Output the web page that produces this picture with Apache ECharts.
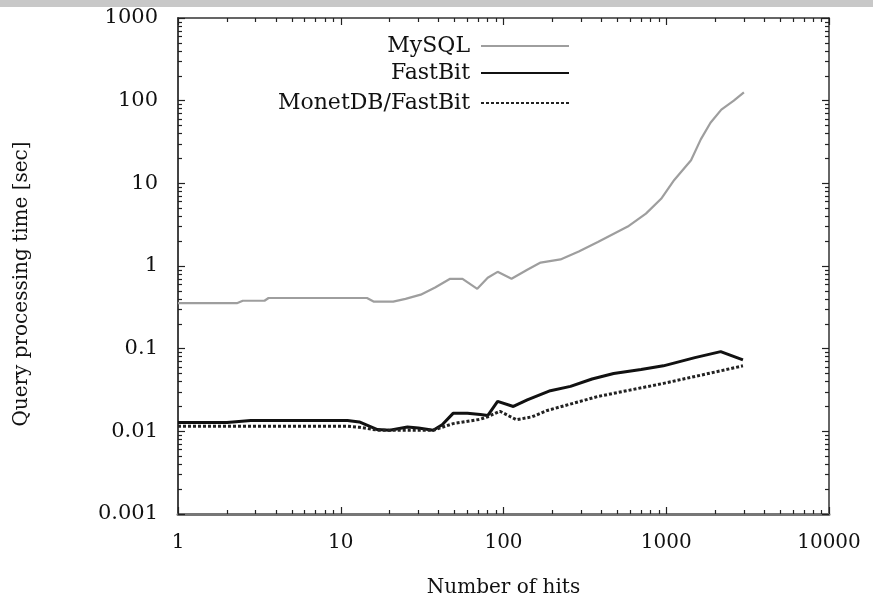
<!DOCTYPE html>
<html>
<head>
<meta charset="utf-8">
<script src="https://cdn.jsdelivr.net/npm/echarts@6/dist/echarts.min.js"></script>
<style>html,body{margin:0;padding:0;background:#fff}#c{width:873px;height:603px}</style>
</head>
<body>
<div id="c"></div>
<script>
// ---- data ----
const mysqlHits  = [1, 2.3, 2.5, 3.4, 3.6, 8, 14.5, 16, 21, 25, 31, 38, 47, 56, 69, 80, 92, 112, 140, 169, 224, 290, 380, 580, 750, 930, 1120, 1420, 1630, 1870, 2180, 2600, 3000];
const mysqlTimes = [0.355, 0.355, 0.38, 0.38, 0.41, 0.41, 0.41, 0.37, 0.37, 0.40, 0.45, 0.55, 0.70, 0.70, 0.53, 0.72, 0.85, 0.70, 0.90, 1.1, 1.2, 1.5, 1.95, 3.0, 4.3, 6.5, 11, 19, 34, 54, 78, 100, 126];

const fastbitHits  = [1, 2.0, 2.8, 11, 13, 16.8, 20, 25.7, 30, 37, 42, 49, 60, 72, 80, 92, 115, 140, 194, 258, 350, 475, 700, 960, 1500, 2160, 2960];
const fastbitTimes = [0.0128, 0.0128, 0.0135, 0.0135, 0.013, 0.0105, 0.0103, 0.0113, 0.011, 0.0103, 0.012, 0.0165, 0.0165, 0.016, 0.0155, 0.023, 0.020, 0.024, 0.031, 0.035, 0.043, 0.050, 0.056, 0.062, 0.078, 0.092, 0.073];

const monetHits  = [1, 11, 13, 17, 37, 49, 72, 80, 95, 120, 150, 186, 380, 960, 2160, 2960];
const monetTimes = [0.0115, 0.0115, 0.0112, 0.0103, 0.0103, 0.0124, 0.014, 0.015, 0.0175, 0.0138, 0.015, 0.0179, 0.0264, 0.038, 0.054, 0.062];

const seriesNames = ['MySQL', 'FastBit', 'MonetDB/FastBit'];
const xMajorTicks = [1, 10, 100, 1000, 10000];
const yMajorTicks = [0.001, 0.01, 0.1, 1, 10, 100, 1000];

function minorsOf(majors) {
  const out = [];
  for (let i = 0; i < majors.length - 1; i++) {
    for (let k = 2; k <= 9; k++) out.push(+(majors[i] * k).toPrecision(6));
  }
  return out;
}
const xMinorTicks = minorsOf(xMajorTicks);
const yMinorTicks = minorsOf(yMajorTicks);

const zip = (a, b) => a.map((v, i) => [v, b[i]]);

const FONT = 'DejaVu Serif';
const axisColor = '#333';

function xAxisDef(pos, ticks, len, showLabels, showLine, extra) {
  return Object.assign({
    type: 'log', logBase: 10, min: 1, max: 10000, position: pos, gridIndex: 0,
    axisLine: { show: showLine, onZero: false, lineStyle: { color: axisColor, width: 1.5 } },
    axisTick: { show: true, inside: true, length: len, customValues: ticks, lineStyle: { color: '#222', width: 1.2 } },
    axisLabel: { show: showLabels, customValues: xMajorTicks, fontFamily: FONT, fontSize: 20, color: '#111', margin: 19,
                 formatter: v => String(v) },
    splitLine: { show: false }, minorTick: { show: false }, minorSplitLine: { show: false }
  }, extra || {});
}
function yAxisDef(pos, ticks, len, showLabels, showLine, extra) {
  return Object.assign({
    type: 'log', logBase: 10, min: 0.001, max: 1000, position: pos, gridIndex: 0,
    axisLine: { show: showLine, onZero: false, lineStyle: { color: axisColor, width: 1.5 } },
    axisTick: { show: true, inside: true, length: len, customValues: ticks, lineStyle: { color: '#222', width: 1.2 } },
    axisLabel: { show: showLabels, customValues: yMajorTicks, fontFamily: FONT, fontSize: 21, color: '#111', margin: 20,
                 formatter: v => String(v) },
    splitLine: { show: false }, minorTick: { show: false }, minorSplitLine: { show: false }
  }, extra || {});
}

const chart = echarts.init(document.getElementById('c'), null, { renderer: 'canvas' });
chart.setOption({
  backgroundColor: '#fff',
  animation: false,
  graphic: [{ type: 'rect', left: 0, top: 0, shape: { width: 873, height: 7 }, style: { fill: '#c8c8c8' }, z: 100 }],
  grid: { left: 178, right: 44, top: 18, bottom: 87, containLabel: false },
  xAxis: [
    xAxisDef('bottom', xMajorTicks, 7, true, true, {
      name: 'Number of hits', nameLocation: 'middle', nameGap: 64,
      nameTextStyle: { fontFamily: FONT, fontSize: 20, color: '#111' },
      axisLine: { show: true, onZero: false, lineStyle: { color: '#777', width: 3 } }
    }),
    xAxisDef('bottom', xMinorTicks, 4, false, false),
    xAxisDef('top', xMajorTicks, 7, false, true),
    xAxisDef('top', xMinorTicks, 4, false, false)
  ],
  yAxis: [
    yAxisDef('left', yMajorTicks, 7, true, true, {
      name: 'Query processing time [sec]', nameLocation: 'middle', nameGap: 146, nameRotate: 90,
      nameTextStyle: { fontFamily: FONT, fontSize: 20, color: '#111', padding: [0, 36, 0, 0] },
      axisLine: { show: true, onZero: false, lineStyle: { color: '#444', width: 2 } }
    }),
    yAxisDef('left', yMinorTicks, 4, false, false),
    yAxisDef('right', yMajorTicks, 7, false, true),
    yAxisDef('right', yMinorTicks, 4, false, false)
  ],
  legend: seriesNames.map((n, i) => ({
    data: [n], right: 303, top: [35, 62, 92][i], orient: 'vertical', align: 'right', padding: 0,
    itemWidth: 88, itemHeight: 14, itemGap: 0, selectedMode: false,
    itemStyle: { opacity: 0 },
    textStyle: { fontFamily: FONT, fontSize: 22, color: '#111', padding: [0, 6, 0, 0] }
  })),
  series: [
    { name: seriesNames[0], type: 'line', xAxisIndex: 0, yAxisIndex: 0, data: zip(mysqlHits, mysqlTimes),
      symbol: 'none', lineStyle: { color: '#9e9e9e', width: 2.2 }, itemStyle: { color: '#9e9e9e' }, z: 3 },
    { name: seriesNames[1], type: 'line', xAxisIndex: 0, yAxisIndex: 0, data: zip(fastbitHits, fastbitTimes),
      symbol: 'none', lineStyle: { color: '#111', width: 3 }, itemStyle: { color: '#111' }, z: 4 },
    { name: seriesNames[2], type: 'line', xAxisIndex: 0, yAxisIndex: 0, data: zip(monetHits, monetTimes),
      symbol: 'none', lineStyle: { color: '#222', width: 3, type: [3, 2] }, itemStyle: { color: '#222' }, z: 5 }
  ]
});
</script>
</body>
</html>
